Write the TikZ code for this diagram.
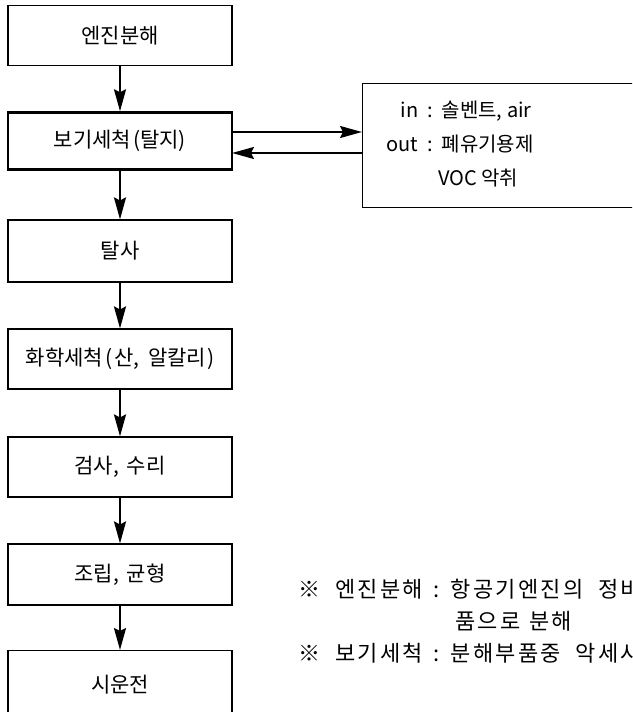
\documentclass[tikz,border=0pt]{standalone}
\usepackage{fontspec}
\setmainfont{Noto Sans CJK KR}
\newfontfamily\notefont[LetterSpace=10]{Noto Sans CJK KR}
\usetikzlibrary{arrows.meta}
\begin{document}
\begin{tikzpicture}[x=1pt,y=-1pt,
  stepbox/.style={draw, line width=1.1pt, minimum width=224pt, minimum height=60pt, inner sep=0pt, font=\fontsize{21}{25}\selectfont},
  flow/.style={line width=2pt, -{Stealth[length=22pt,width=12pt,inset=3pt]}},
  txt/.style={inner sep=0pt, font=\fontsize{20}{24}\selectfont},
  note/.style={inner sep=0pt, anchor=west, font=\notefont\fontsize{22}{26}\selectfont}]
\useasboundingbox (0,0) rectangle (632,712);
\begin{scope}
\clip (0,0) rectangle (632,712);
\node[stepbox] (s1) at (120,35.5) {엔진분해};
\node[stepbox, line width=2.4pt, minimum height=57pt] (s2) at (120,141) {보기세척\hspace{2pt}(탈지)};
\node[stepbox, minimum height=62pt] (s3) at (120,251) {탈사};
\node[stepbox] (s4) at (120,359) {화학세척\hspace{3pt}(\hspace{1pt}산,\hspace{9pt}알칼리\hspace{1pt})};
\node[stepbox] (s5) at (120,467) {검사,\hspace{8pt}수리};
\node[stepbox, minimum height=61pt] (s6) at (120,574.5) {조립,\hspace{8pt}균형};
\node[stepbox, minimum height=70pt, anchor=north] (s7) at (120,650) {};
\node[txt, font=\fontsize{21}{25}\selectfont] (t7) at (120,685) {시운전};
\draw[flow] (s1) -- (s2);
\draw[flow] (s2) -- (s3);
\draw[flow] (s3) -- (s4);
\draw[flow] (s4) -- (s5);
\draw[flow] (s5) -- (s6);
\draw[flow] (s6) -- (s7);
\node[draw, line width=1.1pt, anchor=north west, minimum width=300pt, minimum height=124pt, inner sep=0pt] (side) at (362,83) {};
\coordinate (a1) at (232,132);
\coordinate (a2) at (232,153);
\draw[flow] (a1) -- (a1 -| side.west);
\draw[flow] (a2 -| side.west) -- (a2);
\node[txt, anchor=base west] (l1) at (383,117) {\makebox[35pt][r]{in}\hspace{9pt}:\hspace{9pt}솔벤트, air};
\node[txt, anchor=base west] (l2) at (383,151) {\makebox[35pt][r]{out}\hspace{9pt}:\hspace{9pt}폐유기용제};
\node[txt, anchor=base west] (l3) at (438,185) {VOC 악취};
\node[note] (n1) at (298,589) {※\hspace{15pt}엔진분해\hspace{11pt}:\hspace{11pt}항공기엔진의\hspace{15pt}정비};
\node[note] (n2) at (455,621) {품으로\hspace{9pt}분해};
\node[note] (n3) at (298,653) {※\hspace{15pt}보기세척\hspace{11pt}:\hspace{11pt}분해부품중\hspace{15pt}악세사};
\end{scope}
\end{tikzpicture}
\end{document}
